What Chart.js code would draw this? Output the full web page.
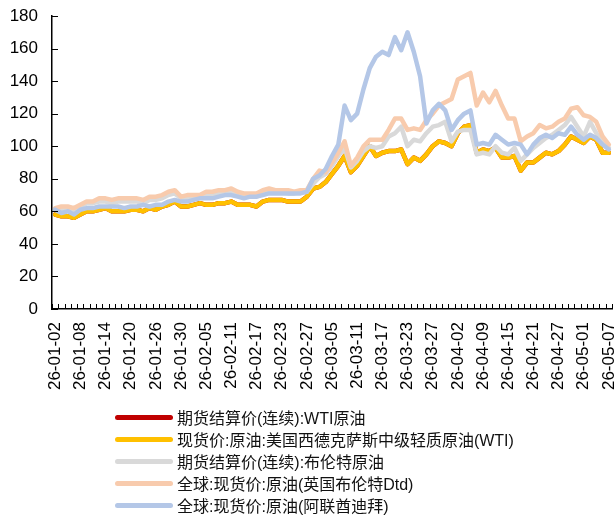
<!DOCTYPE html>
<html>
<head>
<meta charset="utf-8">
<script src="https://cdn.jsdelivr.net/npm/chart.js@4/dist/chart.umd.min.js"></script>
<style>
  body { margin: 0; background: #fff; }
  #wrap { position: relative; width: 616px; height: 517px; }
  #legend { position: absolute; left: 115px; top: 406px; font-family: "Liberation Sans", Arial, "Noto Sans CJK SC", sans-serif; font-size: 16px; color: #111; }
  .item { height: 22px; display: flex; align-items: center; white-space: nowrap; }
  .swatch { width: 58px; height: 5px; border-radius: 3px; margin-right: 4px; }
</style>
</head>
<body>
<div id="wrap">
  <canvas id="chart" width="616" height="410"></canvas>
  <div id="legend"></div>
</div>
<script>
// trading days, a label every 4th
const dates = [
  '26-01-02','26-01-05','26-01-06','26-01-07','26-01-08','26-01-09','26-01-12','26-01-13','26-01-14','26-01-15',
  '26-01-16','26-01-19','26-01-20','26-01-21','26-01-22','26-01-23','26-01-26','26-01-27','26-01-28','26-01-29',
  '26-01-30','26-02-02','26-02-03','26-02-04','26-02-05','26-02-06','26-02-09','26-02-10','26-02-11','26-02-12',
  '26-02-13','26-02-16','26-02-17','26-02-18','26-02-19','26-02-20','26-02-23','26-02-24','26-02-25','26-02-26',
  '26-02-27','26-03-02','26-03-03','26-03-04','26-03-05','26-03-06','26-03-09','26-03-10','26-03-11','26-03-12',
  '26-03-13','26-03-16','26-03-17','26-03-18','26-03-19','26-03-20','26-03-23','26-03-24','26-03-25','26-03-26',
  '26-03-27','26-03-30','26-03-31','26-04-01','26-04-02','26-04-06','26-04-07','26-04-08','26-04-09','26-04-10',
  '26-04-13','26-04-14','26-04-15','26-04-16','26-04-17','26-04-20','26-04-21','26-04-22','26-04-23','26-04-24',
  '26-04-27','26-04-28','26-04-29','26-04-30','26-05-01','26-05-04','26-05-05','26-05-06','26-05-07'
];
const labelStep = 4;

const wtiFut = [
  58, 57, 57, 56, 58, 60, 60, 61, 62, 60,
  60, 60, 61, 61, 60, 62, 61, 63, 64, 66,
  63, 63, 64, 65, 64, 64, 65, 65, 66, 64,
  64, 64, 63, 66, 67, 67, 67, 66, 66, 66,
  69, 74, 75, 78, 83, 88, 94, 84, 88, 94,
  100, 94, 96, 97, 97, 98, 89, 93, 91, 95,
  100, 103, 102, 100, 108, 112, 113, 96, 98, 97,
  99, 93, 93, 94, 85, 90, 90, 93, 96, 95,
  97, 101, 106, 104, 102, 106, 104, 96, 96
];
const wtiSpot = [
  58, 57, 57, 56, 58, 60, 60, 61, 62, 60,
  60, 60, 61, 61, 60, 62, 61, 63, 64, 66,
  63, 63, 64, 65, 64, 64, 65, 65, 66, 64,
  64, 64, 63, 66, 67, 67, 67, 66, 66, 66,
  69, 74, 75, 78, 83, 88, 94, 84, 88, 94,
  100, 94, 96, 97, 97, 98, 89, 93, 91, 95,
  100, 103, 102, 100, 108, 112, 113, 96, 98, 97,
  99, 93, 93, 94, 85, 90, 90, 93, 96, 95,
  97, 101, 106, 104, 102, 106, 104, 96, 96
];
const brentFut = [
  61, 61, 62, 61, 63, 65, 65, 66, 66, 65,
  66, 66, 66, 66, 65, 67, 67, 68, 70, 71,
  68, 68, 69, 69, 70, 70, 71, 71, 72, 70,
  69, 69, 69, 71, 72, 72, 72, 71, 71, 72,
  72, 77, 81, 83, 88, 94, 99, 87, 91, 97,
  100, 99, 100, 106, 108, 112, 100, 104, 103, 108,
  112, 113, 115, 103, 109, 110, 110, 95, 96, 95,
  100, 96, 95, 99, 91, 95, 99, 102, 105, 107,
  110, 113, 118, 112, 106, 115, 108, 103, 99
];
const brentDtd = [
  62, 63, 63, 62, 64, 66, 66, 68, 68, 67,
  68, 68, 68, 68, 67, 69, 69, 70, 72, 73,
  69, 70, 70, 70, 72, 72, 73, 73, 74, 72,
  71, 71, 71, 73, 74, 73, 73, 73, 72, 73,
  73, 80, 85, 84, 90, 96, 103, 88, 93, 100,
  104, 104, 104, 110, 117, 117, 110, 111, 110, 116,
  120, 125, 127, 129, 141, 143, 145, 125, 133, 127,
  134, 125, 117, 117, 103, 106, 108, 113, 111, 112,
  115, 117, 123, 124, 119, 118, 115, 106, 101
];
const dubai = [
  61, 59, 60, 58, 61, 62, 62, 63, 63, 63,
  63, 62, 63, 63, 64, 63, 64, 64, 66, 67,
  66, 66, 67, 68, 68, 68, 69, 70, 70, 69,
  68, 69, 69, 70, 71, 71, 71, 71, 71, 71,
  72, 80, 82, 86, 94, 101, 125, 116, 120, 135,
  148, 155, 158, 156, 167, 159, 170, 158, 143, 114,
  122, 126, 122, 110, 116, 120, 122, 101, 102, 101,
  107, 104, 101, 102, 101, 95, 101, 105, 107, 105,
  108, 107, 112, 107, 104, 107, 105, 101, 98
];

const seriesNames = [
  '期货结算价(连续):WTI原油',
  '现货价:原油:美国西德克萨斯中级轻质原油(WTI)',
  '期货结算价(连续):布伦特原油',
  '全球:现货价:原油(英国布伦特Dtd)',
  '全球:现货价:原油(阿联酋迪拜)'
];
const seriesData = [wtiFut, wtiSpot, brentFut, brentDtd, dubai];
const seriesColors = ['#C00000', '#FFC000', '#D9D9D9', '#F8CBAD', '#B4C7E7'];

const tickFont = { family: 'Liberation Sans, Arial, sans-serif', size: 17 };

// excel style ticks pointing into the plot
const innerTicks = {
  id: 'innerTicks',
  afterDraw(chart) {
    const { ctx, chartArea, scales: { x, y } } = chart;
    ctx.save();
    ctx.strokeStyle = '#000';
    ctx.lineWidth = 1;
    ctx.beginPath();
    y.ticks.forEach(t => {
      const py = Math.round(y.getPixelForValue(t.value)) + 0.5;
      ctx.moveTo(chartArea.left, py);
      ctx.lineTo(chartArea.left + 6, py);
    });
    for (let i = 0; i <= dates.length; i++) {
      const px = Math.round(x.getPixelForValue(i - 0.5)) + 0.5;
      ctx.moveTo(px, chartArea.bottom);
      ctx.lineTo(px, chartArea.bottom - 5);
    }
    ctx.stroke();
    ctx.restore();
  }
};

const chart = new Chart(document.getElementById('chart'), {
  type: 'line',
  data: {
    labels: dates,
    datasets: seriesNames.map((name, k) => ({
      label: name,
      data: seriesData[k],
      borderColor: seriesColors[k],
      backgroundColor: seriesColors[k],
      borderWidth: 4.5,
      pointRadius: 0,
      tension: 0,
      fill: false,
      borderJoinStyle: 'round',
      borderCapStyle: 'round',
      order: seriesNames.length - k
    }))
  },
  options: {
    responsive: false,
    animation: false,
    layout: { autoPadding: false, padding: { left: 9, right: 4, top: 16, bottom: 0 } },
    plugins: { legend: { display: false }, tooltip: { enabled: false } },
    scales: {
      x: {
        offset: true,
        grid: { display: false, drawTicks: false },
        border: { color: '#000', width: 1.5 },
        ticks: {
          autoSkip: false,
          minRotation: 90,
          maxRotation: 90,
          padding: 13,
          color: '#000',
          font: tickFont,
          callback: (v, i) => (i % labelStep === 0 ? dates[i] : null)
        },
        afterFit: s => { s.height = 101; s.paddingLeft = 0; s.paddingRight = 0; }
      },
      y: {
        min: 0,
        max: 180,
        grid: { display: false, drawTicks: false },
        border: { color: '#000', width: 1.5 },
        ticks: { stepSize: 20, padding: 14, color: '#000', font: tickFont },
        afterFit: s => { s.width = 43; s.paddingTop = 0; s.paddingBottom = 0; }
      }
    }
  },
  plugins: [innerTicks]
});

// legend, one item per row
const legend = document.getElementById('legend');
chart.data.datasets.forEach(ds => {
  const row = document.createElement('div');
  row.className = 'item';
  const sw = document.createElement('span');
  sw.className = 'swatch';
  sw.style.background = ds.borderColor;
  const txt = document.createElement('span');
  txt.textContent = ds.label;
  row.appendChild(sw);
  row.appendChild(txt);
  legend.appendChild(row);
});
</script>
</body>
</html>
